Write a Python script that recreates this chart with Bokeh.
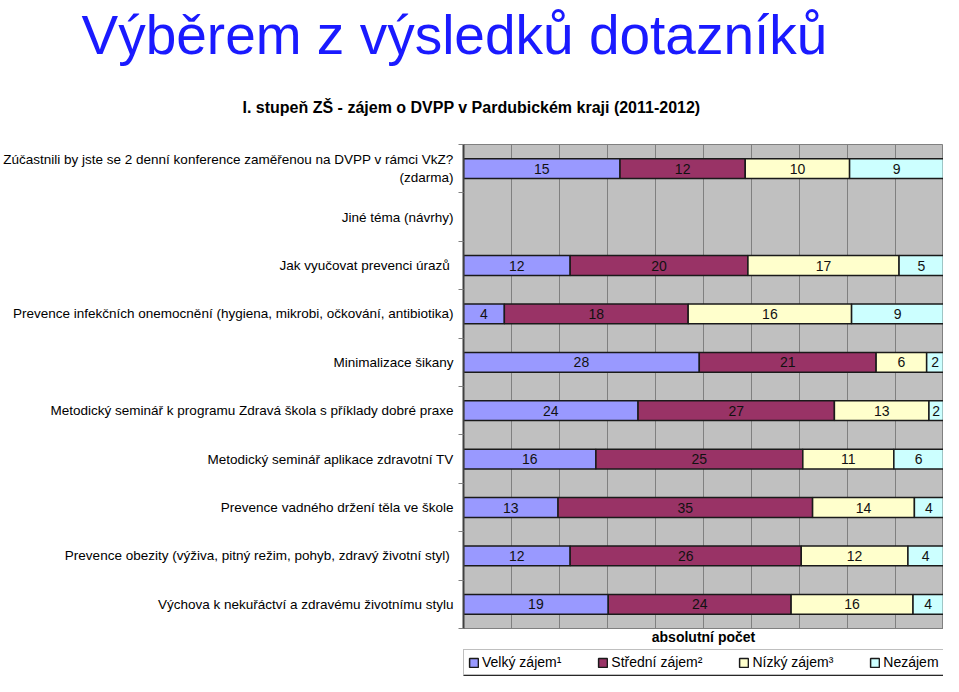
import numpy as np
from bokeh.plotting import figure
from bokeh.layouts import column
from bokeh.models import (ColumnDataSource, FixedTicker, SingleIntervalTicker, Title,
                          Legend, LegendItem, Range1d)
from bokeh.embed import file_html
from bokeh.resources import INLINE
from bokeh.core.properties import value

main_title = "Výběrem z výsledků dotazníků"
sub_title = "I. stupeň ZŠ - zájem o DVPP v Pardubickém kraji (2011-2012)"
x_title = "absolutní počet"

categories = [
    "Zúčastnili by jste se 2 denní konference zaměřenou na DVPP v rámci VkZ?\n(zdarma)",
    "Jiné téma (návrhy)",
    "Jak vyučovat  prevenci úrazů",
    "Prevence infekčních onemocnění (hygiena, mikrobi, očkování, antibiotika)",
    "Minimalizace šikany",
    "Metodický seminář k programu Zdravá škola s příklady dobré praxe",
    "Metodický seminář aplikace zdravotní TV",
    "Prevence vadného držení těla ve škole",
    "Prevence obezity (výživa, pitný režim,  pohyb, zdravý životní styl)",
    "Výchova k nekuřáctví a zdravému životnímu stylu",
]
series_names = ["Velký zájem¹", "Střední zájem²", "Nízký zájem³", "Nezájem"]
velky = [15, 0, 12, 4, 28, 24, 16, 13, 12, 19]
stredni = [12, 0, 20, 18, 21, 27, 25, 35, 26, 24]
nizky = [10, 0, 17, 16, 6, 13, 11, 14, 12, 16]
nezajem = [9, 0, 5, 9, 2, 2, 6, 4, 4, 4]
colors = ["#9999FF", "#993366", "#FFFFCC", "#CCFFFF"]

series = [velky, stredni, nizky, nezajem]
n = len(categories)
ypos = [n - i - 0.5 for i in range(n)]
totals = [sum(s[i] for s in series) for i in range(n)]
# rows without answers get NaN so that no bar outline is drawn
shares = [[(s[i] / totals[i]) if totals[i] else float("nan") for i in range(n)] for s in series]

data = {"y": ypos}
keys = []
for k, sh in enumerate(shares):
    data[f"p{k}"] = sh
    keys.append(f"p{k}")
src = ColumnDataSource(data)

FONT = "Liberation Sans"

p = figure(width=943, height=647, output_backend="svg", toolbar_location=None,
           x_range=Range1d(0, 1), y_range=Range1d(0, n),
           min_border_left=0, min_border_right=0, min_border_top=0, min_border_bottom=18,
           background_fill_color="#C0C0C0", border_fill_color="white",
           outline_line_color="#808080", outline_line_width=1)
p.title.visible = False

renderers = p.hbar_stack(keys, y="y", height=0.41, color=colors, source=src,
                         line_color="#1a1a1a", line_width=1.5)

# value labels
lx, ly, lt = [], [], []
for i in range(n):
    left = 0.0
    for k, s in enumerate(series):
        if s[i] > 0:
            w = shares[k][i]
            lx.append(left + w / 2)
            ly.append(ypos[i])
            lt.append(str(s[i]))
            left += w
p.text(x=lx, y=ly, text=lt, text_align="center", text_baseline="middle",
       text_font=value(FONT), text_font_size="14px", text_color="#111111")

# grid
p.xgrid.ticker = SingleIntervalTicker(interval=0.1)
p.xgrid.grid_line_color = "#808080"
p.xgrid.grid_line_width = 1
p.ygrid.grid_line_color = None

# x axis
xa = p.xaxis[0]
xa.ticker = FixedTicker(ticks=[])
xa.axis_line_color = "#808080"
xa.major_tick_line_color = None
xa.minor_tick_line_color = None
xa.major_tick_out = 0
xa.major_tick_in = 0
xa.minor_tick_out = 0
xa.major_label_standoff = 0
xa.major_label_text_font_size = "1px"
xa.axis_label = x_title
xa.axis_label_text_font = FONT
xa.axis_label_text_font_style = "bold"
xa.axis_label_text_font_size = "14px"
xa.axis_label_text_color = "black"
xa.axis_label_standoff = 0

# y axis
ya = p.yaxis[0]
ya.ticker = FixedTicker(ticks=ypos, minor_ticks=list(range(n + 1)))
ya.major_label_overrides = {y: c for y, c in zip(ypos, categories)}
ya.major_label_text_font = FONT
ya.major_label_text_font_size = "13.5px"
ya.major_label_text_color = "black"
ya.major_label_standoff = 5
ya.major_tick_out = 0
ya.major_tick_in = 0
ya.minor_tick_out = 5
ya.minor_tick_in = 0
ya.minor_tick_line_color = "#808080"
ya.axis_line_color = "#404040"
ya.axis_line_width = 2

# titles
p.add_layout(Title(text=sub_title, text_font=FONT, text_font_style="bold",
                   text_font_size="16px", text_color="black", align="left", offset=-221,
                   standoff=58), "above")
p.add_layout(Title(text=main_title, text_font=FONT, text_font_style="normal",
                   text_font_size="55px", text_color="#1a1aff", align="left", offset=-382,
                   standoff=3), "above")

# legend strip (separate small figure; same stacked data drawn outside its visible range)
lg = figure(width=943, height=29, output_backend="svg", toolbar_location=None,
            x_range=Range1d(0, 1), y_range=Range1d(100, 101), x_axis_type=None, y_axis_type=None,
            min_border=0, outline_line_color=None, border_fill_color="white",
            background_fill_color="white")
lg.title.visible = False
lg.xgrid.visible = False
lg.ygrid.visible = False
swatches = lg.hbar_stack(keys, y="y", height=0.41, color=colors, source=src,
                         line_color="#1a1a1a", line_width=1.5)
items = [LegendItem(label=nm, renderers=[r]) for nm, r in zip(series_names, swatches)]
legend = Legend(items=items, orientation="horizontal", location=(0, 1),
                label_text_font=FONT, label_text_font_size="14px", label_text_color="black",
                glyph_width=11, glyph_height=11, label_standoff=3, spacing=36,
                padding=4, margin=0, border_line_color="#808080", border_line_width=1,
                label_height=14, background_fill_color="white")
lg.add_layout(legend, "center")

layout = column(p, lg, spacing=0)
open("out.html", "w").write(file_html(layout, INLINE))
